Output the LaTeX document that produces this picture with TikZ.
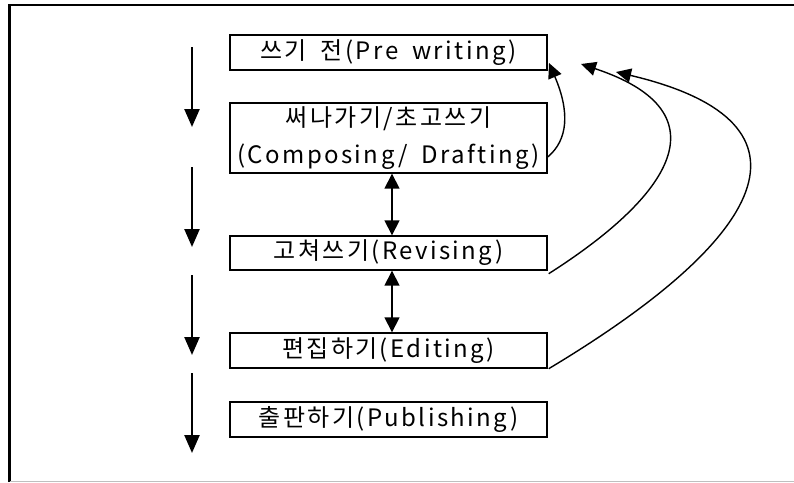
\documentclass[tikz,border=0pt]{standalone}
\usepackage{fontspec}
\setmainfont{Noto Sans CJK KR}[LetterSpace=10,WordSpace=1.8]
\usetikzlibrary{arrows.meta}
\tikzset{
  stage/.style={draw, line width=1.4pt, minimum width=317pt, inner sep=0pt, align=center, font=\fontsize{24}{37}\selectfont},
  flow/.style={line width=2.4pt, -{Triangle[length=18pt,width=15pt]}},
  both/.style={line width=1.6pt, {Triangle[length=15pt,width=15pt]}-{Triangle[length=15pt,width=15pt]}},
  back/.style={line width=1.4pt, -{Triangle[length=15pt,width=14pt]}},
}
\begin{document}
\begin{tikzpicture}[x=1pt,y=-1pt]
\useasboundingbox (0,0) rectangle (794,482);
% outer frame
\draw[line width=2.2pt] (9.5,482) -- (9.5,5) -- (794,5);
\draw[line width=1pt, gray!50] (9.5,481.5) -- (794,481.5);
% stages
\node[stage, minimum height=35pt] (pre) at (388.5,52.5) {쓰기 전(Pre writing)};
\node[stage, minimum height=70pt] (draft) at (388.5,138) {써나가기/초고쓰기\\(Composing/ Drafting)};
\node[stage, minimum height=34pt] (rev) at (388.5,253) {고쳐쓰기(Revising)};
\node[stage, minimum height=35pt] (edit) at (388.5,350.5) {편집하기(Editing)};
\node[stage, minimum height=35pt] (pub) at (388.5,419.5) {출판하기(Publishing)};
% overall direction
\coordinate (a1) at (192,47);  \coordinate (b1) at (192,127);
\coordinate (a2) at (192,167); \coordinate (b2) at (192,247);
\coordinate (a3) at (192,275); \coordinate (b3) at (192,355);
\coordinate (a4) at (192,373); \coordinate (b4) at (192,453);
\draw[flow] (a1) -- (b1);
\draw[flow] (a2) -- (b2);
\draw[flow] (a3) -- (b3);
\draw[flow] (a4) -- (b4);
% two-way links
\draw[both] (draft.south -| 392,0) -- (rev.north -| 392,0);
\draw[both] (rev.south -| 392,0) -- (edit.north -| 392,0);
% returns to pre-writing
\coordinate (t1) at (549,63);
\coordinate (t2) at (581,64);
\coordinate (t3) at (616,72);
\draw[back] (draft.east |- 0,157) .. controls (568,140) and (570,112) .. (t1);
\draw[back] (rev.south east) ++(1,3) .. controls (680,190) and (720,110) .. (t2);
\draw[back] (edit.south east) ++(1,0) .. controls (780,230) and (820,120) .. (t3);
\end{tikzpicture}
\end{document}
